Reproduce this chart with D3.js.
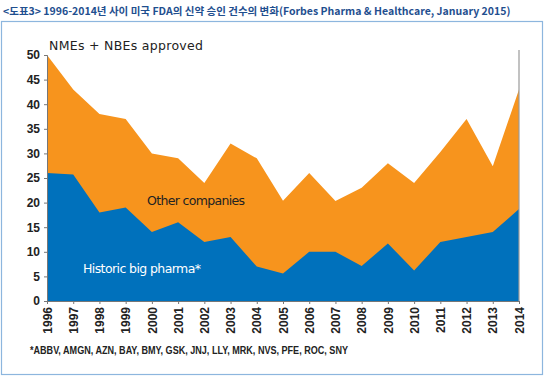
<!DOCTYPE html>
<html><head><meta charset="utf-8">
<script src="https://cdn.jsdelivr.net/npm/d3@7"></script>
<style>body{margin:0;background:#fff}svg{display:block}</style>
</head><body>
<script>
const years = [1996,1997,1998,1999,2000,2001,2002,2003,2004,2005,2006,2007,2008,2009,2010,2011,2012,2013,2014];
const totalApproved = [50,43,38,37,30,29,24,32,29,20.4,26,20.3,23,28,24,30.3,37,27.4,43];
const bigPharma = [26,25.7,18,19,14,16,12,13,7,5.6,10,10,7.1,11.7,6.2,12,13,14,18.7];
const yTicks = [0,5,10,15,20,25,30,35,40,45,50];
const title = "<도표3> 1996-2014년 사이 미국 FDA의 신약 승인 건수의 변화(Forbes Pharma & Healthcare, January 2015)";
const footnote = "*ABBV, AMGN, AZN, BAY, BMY, GSK, JNJ, LLY, MRK, NVS, PFE, ROC, SNY";

const W=545,H=376;
const svg=d3.select("body").append("svg").attr("width",W).attr("height",H);
svg.append("rect").attr("x",1.5).attr("y",21.5).attr("width",541).attr("height",353)
  .attr("fill","none").attr("stroke","#8db6de").attr("stroke-width",1.2);
const tt=svg.append("text").attr("x",3).attr("y",15).text(title)
  .attr("font-family","'Liberation Sans Narrow','Noto Sans CJK KR',sans-serif").attr("font-weight","bold").attr("font-size",12)
  .attr("fill","#1f4f8f");
const natural=tt.node().getComputedTextLength();
if(natural>508){tt.attr("font-size",12*508/natural);}

const x=d3.scaleLinear().domain([1996,2014]).range([47,519]);
const y=d3.scaleLinear().domain([0,50]).range([301,55]);
const data=years.map((yr,i)=>({yr,t:totalApproved[i],b:bigPharma[i]}));

svg.append("path").datum(data).attr("fill","#f7941d")
  .attr("d",d3.area().x(d=>x(d.yr)).y0(y(0)).y1(d=>y(d.t)));
svg.append("path").datum(data).attr("fill","#0071bc")
  .attr("d",d3.area().x(d=>x(d.yr)).y0(y(0)).y1(d=>y(d.b)));

svg.append("line").attr("x1",x(2014)).attr("x2",x(2014)).attr("y1",y(51)).attr("y2",y(0))
  .attr("stroke","#999").attr("stroke-width",1.2);

const font="'DejaVu Sans', sans-serif";
const yAx=svg.append("g").attr("transform",`translate(${x(1996)},0)`)
  .call(d3.axisLeft(y).tickValues(yTicks).tickSize(3).tickPadding(4));
yAx.select(".domain").attr("stroke","#777");
yAx.selectAll(".tick line").attr("stroke","#777");
yAx.selectAll("text").attr("font-family","'Liberation Sans', sans-serif").attr("font-weight","bold")
  .attr("font-size",12).attr("fill","#222");

const xAx=svg.append("g").attr("transform",`translate(0,${y(0)})`)
  .call(d3.axisBottom(x).tickValues(years).tickFormat(d3.format("d")).tickSize(3));
xAx.select(".domain").attr("stroke","#777");
xAx.selectAll(".tick line").attr("stroke","#777");
xAx.selectAll("text").attr("font-family","'Liberation Sans', sans-serif").attr("font-weight","bold")
  .attr("font-size",12).attr("fill","#222")
  .attr("transform","rotate(-90)").attr("text-anchor","end")
  .attr("x",-6).attr("y",0).attr("dy","0.35em");

svg.append("text").attr("x",49).attr("y",50).text("NMEs + NBEs approved")
  .attr("font-family",font).attr("font-size",12.5).attr("fill","#222").attr("textLength",154);
svg.append("text").attr("x",147).attr("y",205).text("Other companies")
  .attr("font-family",font).attr("font-size",12.5).attr("fill","#222").attr("textLength",98);
svg.append("text").attr("x",83).attr("y",273).text("Historic big pharma*")
  .attr("font-family",font).attr("font-size",12.5).attr("fill","#fff").attr("textLength",118);
svg.append("text").attr("x",30).attr("y",354).text(footnote)
  .attr("font-family","'Liberation Sans Narrow','Liberation Sans',sans-serif").attr("font-weight","bold")
  .attr("font-size",11).attr("fill","#222").attr("textLength",318).attr("lengthAdjust","spacingAndGlyphs");
</script>
</body></html>
